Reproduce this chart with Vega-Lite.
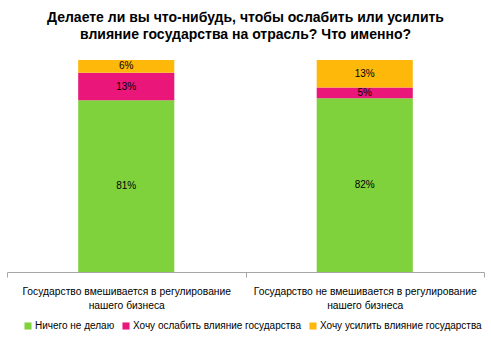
{
  "$schema": "https://vega.github.io/schema/vega-lite/v6.json",
  "autosize": "none",
  "width": 477,
  "height": 212,
  "padding": {"left": 7, "top": 60, "right": 7, "bottom": 79},
  "background": "white",
  "title": {
    "text": ["Делаете ли вы что-нибудь, чтобы ослабить или усилить", "влияние государства на отрасль? Что именно?"],
    "font": "Liberation Sans",
    "fontSize": 14,
    "fontWeight": "bold",
    "color": "#000000",
    "anchor": "middle",
    "lineHeight": 17,
    "offset": 18,
    "frame": "group"
  },
  "config": {"view": {"stroke": null}},
  "data": {
    "values": [
      {"group": "Государство вмешивается в регулирование нашего бизнеса", "answer": "Ничего не делаю", "order": 1, "value": 81},
      {"group": "Государство вмешивается в регулирование нашего бизнеса", "answer": "Хочу ослабить влияние государства", "order": 2, "value": 13},
      {"group": "Государство вмешивается в регулирование нашего бизнеса", "answer": "Хочу усилить влияние  государства", "order": 3, "value": 6},
      {"group": "Государство не вмешивается в регулирование нашего бизнеса", "answer": "Ничего не делаю", "order": 1, "value": 82},
      {"group": "Государство не вмешивается в регулирование нашего бизнеса", "answer": "Хочу ослабить влияние государства", "order": 2, "value": 5},
      {"group": "Государство не вмешивается в регулирование нашего бизнеса", "answer": "Хочу усилить влияние  государства", "order": 3, "value": 13}
    ]
  },
  "transform": [
    {"stack": "value", "groupby": ["group"], "sort": [{"field": "order"}], "as": ["y0", "y1"]},
    {"calculate": "(datum.y0 + datum.y1) / 2", "as": "mid"},
    {"calculate": "datum.value + '%'", "as": "lbl"}
  ],
  "encoding": {
    "x": {
      "field": "group",
      "type": "nominal",
      "sort": null,
      "scale": {"paddingInner": 0, "paddingOuter": 0},
      "axis": {
        "title": null,
        "labelAngle": 0,
        "labelFont": "Liberation Sans",
        "labelFontSize": 10.3,
        "labelColor": "#000000",
        "labelLineHeight": 14,
        "labelPadding": 9,
        "labelLimit": 300,
        "labelExpr": "split(replace(datum.label, 'регулирование ', 'регулирование|'), '|')",
        "domainColor": "#a6a6a6",
        "tickColor": "#a6a6a6",
        "tickSize": 5,
        "tickBand": "extent"
      }
    }
  },
  "layer": [
    {
      "mark": {"type": "bar", "width": {"band": 0.403}},
      "encoding": {
        "y": {"field": "y0", "type": "quantitative", "scale": {"domain": [0, 100]}, "axis": null},
        "y2": {"field": "y1"},
        "color": {
          "field": "answer",
          "type": "nominal",
          "sort": ["Ничего не делаю", "Хочу ослабить влияние государства", "Хочу усилить влияние  государства"],
          "scale": {
            "domain": ["Ничего не делаю", "Хочу ослабить влияние государства", "Хочу усилить влияние  государства"],
            "range": ["#80d23c", "#ea1679", "#feb80a"]
          },
          "legend": {
            "orient": "none",
            "legendX": 16,
            "legendY": 261,
            "direction": "horizontal",
            "title": null,
            "symbolType": "square",
            "symbolSize": 50,
            "symbolStrokeWidth": 0,
            "labelFont": "Liberation Sans",
            "labelFontSize": 10,
            "labelColor": "#000000",
            "labelOffset": 2,
            "columnPadding": 6,
            "labelLimit": 300
          }
        }
      }
    },
    {
      "mark": {"type": "text", "font": "Liberation Sans", "fontSize": 10, "color": "#000000"},
      "encoding": {
        "y": {"field": "mid", "type": "quantitative", "scale": {"domain": [0, 100]}},
        "text": {"field": "lbl"}
      }
    }
  ]
}
